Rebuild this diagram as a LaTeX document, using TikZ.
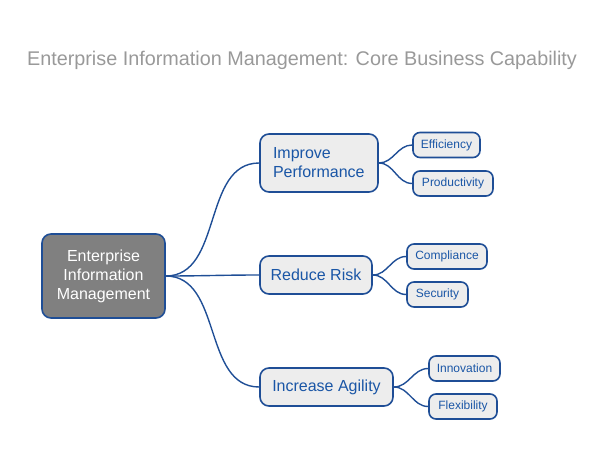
\documentclass[tikz,border=0pt]{standalone}
\usepackage{fontspec}
\setmainfont{Liberation Sans}
\usetikzlibrary{positioning}
\definecolor{edgeblue}{HTML}{1F4E96}
\definecolor{textblue}{HTML}{1A56A6}
\tikzset{
  box/.style = {draw=edgeblue, line width=1.6pt, rounded corners=9pt, fill=black!7, text=textblue, align=center, inner sep=0pt},
  leaf/.style = {box, rounded corners=7pt, font=\fontsize{12}{14}\selectfont},
  branch/.style = {box, align=left, font=\fontsize{16}{19}\selectfont},
  link/.style = {draw=edgeblue, line width=1.4pt}
}
\begin{document}
\begin{tikzpicture}[x=1pt, y=-1pt]
  \useasboundingbox (0,0) rectangle (604,468);

  % Title
  \node[text=black!40, font=\fontsize{19.8}{23}\selectfont] (title) at (302,60) {Enterprise Information Management: Core Business Capability};

  % Root
  \node[box, fill=black!50, text=white, minimum width=123pt, minimum height=84pt, font=\fontsize{16}{19}\selectfont] (eim) at (103.5,276) {Enterprise\\Information\\Management};

  % Branches
  \node[branch, minimum width=118pt, minimum height=58pt, text width=92pt] (perf) at (319,163) {Improve\\Performance};
  \node[branch, minimum width=112pt, minimum height=38pt] (risk) at (316,275) {Reduce Risk};
  \node[branch, minimum width=133pt, minimum height=38pt] (agil) at (326.5,387) {Increase Agility};

  % Leaves
  \node[leaf, minimum width=67pt, minimum height=25pt] (eff) at (446.5,145) {Efficiency};
  \node[leaf, minimum width=80pt, minimum height=25pt] (prod) at (453,183.5) {Productivity};
  \node[leaf, minimum width=80pt, minimum height=25pt] (comp) at (447,256.5) {Compliance};
  \node[leaf, minimum width=61pt, minimum height=25pt] (sec) at (437.5,294.5) {Security};
  \node[leaf, minimum width=71pt, minimum height=25pt] (inno) at (464.5,368.5) {Innovation};
  \node[leaf, minimum width=68pt, minimum height=25pt] (flex) at (463,406.5) {Flexibility};

  % Connectors
  \foreach \b in {perf, risk, agil}
    \draw[link] (eim.east) to[out=0, in=180] (\b.west);
  \foreach \b/\l in {perf/eff, perf/prod, risk/comp, risk/sec, agil/inno, agil/flex}
    \draw[link] (\b.east) to[out=0, in=180] (\l.west);

\end{tikzpicture}
\end{document}
